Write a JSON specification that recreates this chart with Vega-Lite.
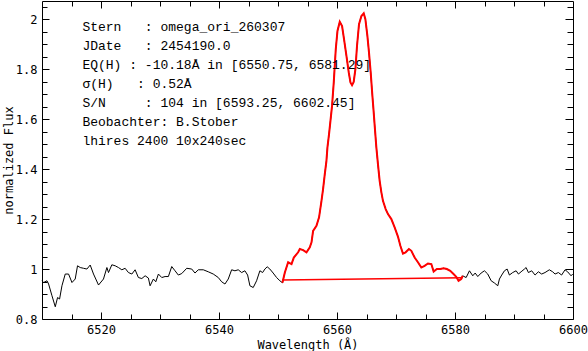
{
  "$schema": "https://vega.github.io/schema/vega-lite/v6.json",
  "width": 531,
  "height": 318,
  "autosize": {"type": "none"},
  "padding": {"left": 42, "top": 1, "right": 15, "bottom": 32},
  "background": "white",
  "config": {
    "view": {"stroke": "black", "strokeWidth": 1},
    "axis": {
      "domain": false,
      "grid": false,
      "tickColor": "black",
      "tickWidth": 1,
      "labelFont": "DejaVu Sans Mono",
      "labelFontSize": 12,
      "labelColor": "black",
      "titleFont": "DejaVu Sans Mono",
      "titleFontSize": 12,
      "titleFontWeight": "normal",
      "titleColor": "black"
    }
  },
  "datasets": {
    "spec": [
      {"w": 6510.0, "f": 0.953}, {"w": 6510.27, "f": 0.946}, {"w": 6510.85, "f": 0.953}, {"w": 6511.12, "f": 0.94},
      {"w": 6511.69, "f": 0.893}, {"w": 6512.25, "f": 0.849}, {"w": 6512.64, "f": 0.886}, {"w": 6512.98, "f": 0.88},
      {"w": 6513.38, "f": 0.933}, {"w": 6513.94, "f": 0.98}, {"w": 6514.5, "f": 0.98}, {"w": 6515.08, "f": 0.946},
      {"w": 6515.63, "f": 0.96}, {"w": 6516.02, "f": 1.013}, {"w": 6516.48, "f": 1.006}, {"w": 6517.04, "f": 1.003},
      {"w": 6517.61, "f": 1.0}, {"w": 6518.17, "f": 1.016}, {"w": 6518.73, "f": 0.98}, {"w": 6519.58, "f": 0.936},
      {"w": 6520.42, "f": 0.96}, {"w": 6521.0, "f": 1.006}, {"w": 6521.27, "f": 0.986}, {"w": 6521.84, "f": 1.017},
      {"w": 6522.4, "f": 1.013}, {"w": 6522.96, "f": 1.006}, {"w": 6523.53, "f": 0.997}, {"w": 6524.09, "f": 1.003},
      {"w": 6524.65, "f": 0.986}, {"w": 6525.23, "f": 0.98}, {"w": 6525.78, "f": 0.997}, {"w": 6526.34, "f": 0.966},
      {"w": 6526.92, "f": 0.962}, {"w": 6527.48, "f": 0.973}, {"w": 6528.03, "f": 0.964}, {"w": 6528.32, "f": 0.933},
      {"w": 6528.88, "f": 0.96}, {"w": 6529.29, "f": 0.949}, {"w": 6529.73, "f": 0.98}, {"w": 6530.3, "f": 0.966},
      {"w": 6530.86, "f": 0.97}, {"w": 6531.42, "f": 0.97}, {"w": 6531.99, "f": 1.01}, {"w": 6532.55, "f": 0.993},
      {"w": 6533.11, "f": 0.976}, {"w": 6533.69, "f": 0.982}, {"w": 6534.53, "f": 1.003}, {"w": 6535.38, "f": 1.0},
      {"w": 6535.93, "f": 0.984}, {"w": 6536.49, "f": 0.997}, {"w": 6537.34, "f": 0.997}, {"w": 6538.18, "f": 0.989},
      {"w": 6539.03, "f": 0.98}, {"w": 6539.88, "f": 0.966}, {"w": 6540.45, "f": 0.949}, {"w": 6541.01, "f": 0.94},
      {"w": 6541.57, "f": 0.96}, {"w": 6542.14, "f": 0.997}, {"w": 6542.7, "f": 0.993}, {"w": 6543.26, "f": 0.997},
      {"w": 6543.84, "f": 0.986}, {"w": 6544.39, "f": 0.993}, {"w": 6544.85, "f": 0.976}, {"w": 6545.24, "f": 0.933},
      {"w": 6545.8, "f": 0.926}, {"w": 6546.37, "f": 0.953}, {"w": 6546.93, "f": 0.993}, {"w": 6547.39, "f": 0.986},
      {"w": 6547.78, "f": 1.0}, {"w": 6548.17, "f": 1.009}, {"w": 6548.62, "f": 1.0}, {"w": 6549.18, "f": 0.984},
      {"w": 6549.76, "f": 0.966}, {"w": 6550.32, "f": 0.953}, {"w": 6550.75, "f": 0.945},
      {"w": 6551.16, "f": 0.986}, {"w": 6551.72, "f": 1.027}, {"w": 6552.29, "f": 1.02}, {"w": 6552.68, "f": 1.046},
      {"w": 6553.41, "f": 1.067}, {"w": 6553.7, "f": 1.08}, {"w": 6554.26, "f": 1.076}, {"w": 6554.83, "f": 1.067},
      {"w": 6555.39, "f": 1.087}, {"w": 6555.68, "f": 1.107}, {"w": 6555.95, "f": 1.153}, {"w": 6556.52, "f": 1.173},
      {"w": 6556.96, "f": 1.207}, {"w": 6557.37, "f": 1.273}, {"w": 6557.64, "f": 1.32}, {"w": 6557.93, "f": 1.38},
      {"w": 6558.21, "f": 1.433}, {"w": 6558.38, "f": 1.487}, {"w": 6558.65, "f": 1.54}, {"w": 6558.89, "f": 1.593},
      {"w": 6559.16, "f": 1.653}, {"w": 6559.45, "f": 1.747}, {"w": 6559.79, "f": 1.88}, {"w": 6560.08, "f": 1.953},
      {"w": 6560.47, "f": 1.99}, {"w": 6560.86, "f": 1.973}, {"w": 6561.19, "f": 1.92}, {"w": 6561.6, "f": 1.853},
      {"w": 6561.99, "f": 1.787}, {"w": 6562.28, "f": 1.747}, {"w": 6562.55, "f": 1.736}, {"w": 6562.83, "f": 1.749},
      {"w": 6563.12, "f": 1.8}, {"w": 6563.39, "f": 1.893}, {"w": 6563.73, "f": 1.98}, {"w": 6564.14, "f": 2.013},
      {"w": 6564.53, "f": 2.024}, {"w": 6564.81, "f": 2.0}, {"w": 6565.15, "f": 1.933}, {"w": 6565.42, "f": 1.867},
      {"w": 6565.71, "f": 1.787}, {"w": 6566.0, "f": 1.693}, {"w": 6566.22, "f": 1.627}, {"w": 6566.39, "f": 1.573},
      {"w": 6566.67, "f": 1.487}, {"w": 6566.94, "f": 1.42}, {"w": 6567.23, "f": 1.353}, {"w": 6567.52, "f": 1.307},
      {"w": 6567.79, "f": 1.273}, {"w": 6568.25, "f": 1.24}, {"w": 6568.64, "f": 1.22}, {"w": 6569.21, "f": 1.2},
      {"w": 6569.77, "f": 1.167}, {"w": 6570.33, "f": 1.13}, {"w": 6570.74, "f": 1.093}, {"w": 6571.18, "f": 1.062},
      {"w": 6571.63, "f": 1.067}, {"w": 6572.19, "f": 1.08}, {"w": 6572.6, "f": 1.073}, {"w": 6573.16, "f": 1.046},
      {"w": 6573.72, "f": 1.027}, {"w": 6574.29, "f": 1.006}, {"w": 6574.85, "f": 1.013}, {"w": 6575.41, "f": 1.022},
      {"w": 6575.99, "f": 1.02}, {"w": 6576.38, "f": 0.99}, {"w": 6576.93, "f": 1.0}, {"w": 6577.5, "f": 1.0},
      {"w": 6578.06, "f": 1.003}, {"w": 6578.62, "f": 1.0}, {"w": 6579.19, "f": 0.993}, {"w": 6579.75, "f": 0.98},
      {"w": 6580.21, "f": 0.969}, {"w": 6580.6, "f": 0.953}, {"w": 6581.05, "f": 0.96}, {"w": 6581.29, "f": 0.973},
      {"w": 6581.89, "f": 0.966}, {"w": 6582.45, "f": 0.993}, {"w": 6583.01, "f": 0.973}, {"w": 6583.42, "f": 0.984},
      {"w": 6583.86, "f": 0.97}, {"w": 6584.43, "f": 0.984}, {"w": 6584.99, "f": 0.993}, {"w": 6585.55, "f": 0.98},
      {"w": 6586.13, "f": 0.953}, {"w": 6586.69, "f": 0.944}, {"w": 6587.25, "f": 0.933}, {"w": 6587.53, "f": 0.96},
      {"w": 6587.92, "f": 0.976}, {"w": 6588.38, "f": 0.993}, {"w": 6588.84, "f": 1.0}, {"w": 6589.22, "f": 0.976},
      {"w": 6589.78, "f": 0.986}, {"w": 6590.36, "f": 0.993}, {"w": 6590.75, "f": 0.98}, {"w": 6591.2, "f": 0.989},
      {"w": 6591.77, "f": 1.0}, {"w": 6592.05, "f": 1.006}, {"w": 6592.44, "f": 0.986}, {"w": 6593.0, "f": 0.993},
      {"w": 6593.57, "f": 0.976}, {"w": 6594.13, "f": 0.989}, {"w": 6594.69, "f": 0.98}, {"w": 6595.26, "f": 0.986},
      {"w": 6595.99, "f": 0.997}, {"w": 6596.55, "f": 0.989}, {"w": 6596.96, "f": 0.98}, {"w": 6597.52, "f": 0.986},
      {"w": 6598.07, "f": 0.976}, {"w": 6598.65, "f": 0.997}, {"w": 6599.09, "f": 0.989}, {"w": 6599.67, "f": 0.973},
      {"w": 6599.95, "f": 0.98}
    ],
    "em": [
      {"w": 6550.75, "f": 0.945},
      {"w": 6551.16, "f": 0.986}, {"w": 6551.72, "f": 1.027}, {"w": 6552.29, "f": 1.02}, {"w": 6552.68, "f": 1.046},
      {"w": 6553.41, "f": 1.067}, {"w": 6553.7, "f": 1.08}, {"w": 6554.26, "f": 1.076}, {"w": 6554.83, "f": 1.067},
      {"w": 6555.39, "f": 1.087}, {"w": 6555.68, "f": 1.107}, {"w": 6555.95, "f": 1.153}, {"w": 6556.52, "f": 1.173},
      {"w": 6556.96, "f": 1.207}, {"w": 6557.37, "f": 1.273}, {"w": 6557.64, "f": 1.32}, {"w": 6557.93, "f": 1.38},
      {"w": 6558.21, "f": 1.433}, {"w": 6558.38, "f": 1.487}, {"w": 6558.65, "f": 1.54}, {"w": 6558.89, "f": 1.593},
      {"w": 6559.16, "f": 1.653}, {"w": 6559.45, "f": 1.747}, {"w": 6559.79, "f": 1.88}, {"w": 6560.08, "f": 1.953},
      {"w": 6560.47, "f": 1.99}, {"w": 6560.86, "f": 1.973}, {"w": 6561.19, "f": 1.92}, {"w": 6561.6, "f": 1.853},
      {"w": 6561.99, "f": 1.787}, {"w": 6562.28, "f": 1.747}, {"w": 6562.55, "f": 1.736}, {"w": 6562.83, "f": 1.749},
      {"w": 6563.12, "f": 1.8}, {"w": 6563.39, "f": 1.893}, {"w": 6563.73, "f": 1.98}, {"w": 6564.14, "f": 2.013},
      {"w": 6564.53, "f": 2.024}, {"w": 6564.81, "f": 2.0}, {"w": 6565.15, "f": 1.933}, {"w": 6565.42, "f": 1.867},
      {"w": 6565.71, "f": 1.787}, {"w": 6566.0, "f": 1.693}, {"w": 6566.22, "f": 1.627}, {"w": 6566.39, "f": 1.573},
      {"w": 6566.67, "f": 1.487}, {"w": 6566.94, "f": 1.42}, {"w": 6567.23, "f": 1.353}, {"w": 6567.52, "f": 1.307},
      {"w": 6567.79, "f": 1.273}, {"w": 6568.25, "f": 1.24}, {"w": 6568.64, "f": 1.22}, {"w": 6569.21, "f": 1.2},
      {"w": 6569.77, "f": 1.167}, {"w": 6570.33, "f": 1.13}, {"w": 6570.74, "f": 1.093}, {"w": 6571.18, "f": 1.062},
      {"w": 6571.63, "f": 1.067}, {"w": 6572.19, "f": 1.08}, {"w": 6572.6, "f": 1.073}, {"w": 6573.16, "f": 1.046},
      {"w": 6573.72, "f": 1.027}, {"w": 6574.29, "f": 1.006}, {"w": 6574.85, "f": 1.013}, {"w": 6575.41, "f": 1.022},
      {"w": 6575.99, "f": 1.02}, {"w": 6576.38, "f": 0.99}, {"w": 6576.93, "f": 1.0}, {"w": 6577.5, "f": 1.0},
      {"w": 6578.06, "f": 1.003}, {"w": 6578.62, "f": 1.0}, {"w": 6579.19, "f": 0.993}, {"w": 6579.75, "f": 0.98},
      {"w": 6580.21, "f": 0.969}, {"w": 6580.6, "f": 0.953}, {"w": 6581.05, "f": 0.96}, {"w": 6581.29, "f": 0.973}
    ],
    "base": [
      {"w": 6550.75, "f": 0.956},
      {"w": 6581.29, "f": 0.965}
    ]
  },
  "layer": [
    {
      "data": {"name": "spec"},
      "mark": {"type": "line", "color": "black", "strokeWidth": 1},
      "encoding": {
        "x": {
          "field": "w", "type": "quantitative",
          "scale": {"domain": [6510, 6600], "nice": false, "zero": false},
          "axis": {
            "orient": "bottom",
            "values": [6520, 6540, 6560, 6580, 6600],
            "format": "d",
            "tickSize": -7,
            "labelPadding": 12,
            "labelFlush": false,
            "title": "Wavelength (Å)",
            "titlePadding": 4
          }
        },
        "y": {
          "field": "f", "type": "quantitative",
          "scale": {"domain": [0.8, 2.073], "nice": false, "zero": false},
          "axis": {
            "orient": "left",
            "values": [0.8, 1.0, 1.2, 1.4, 1.6, 1.8, 2.0],
            "format": "~g",
            "tickSize": -7,
            "labelPadding": 12,
            "labelFlush": false,
            "title": "normalized Flux",
            "titlePadding": 0
          }
        }
      }
    },
    {
      "data": {"name": "em"},
      "mark": {"type": "line", "color": "#ff0000", "strokeWidth": 2},
      "encoding": {
        "x": {
          "field": "w", "type": "quantitative",
          "axis": {
            "orient": "bottom",
            "values": [6515, 6525, 6530, 6535, 6545, 6550, 6555, 6565, 6570, 6575, 6585, 6590, 6595],
            "tickSize": -5, "labels": false, "title": null
          }
        },
        "y": {
          "field": "f", "type": "quantitative",
          "axis": {
            "orient": "left",
            "values": [0.85, 0.9, 0.95, 1.05, 1.1, 1.15, 1.25, 1.3, 1.35, 1.45, 1.5, 1.55, 1.65, 1.7, 1.75, 1.85, 1.9, 1.95, 2.05],
            "tickSize": -5, "labels": false, "title": null
          }
        }
      }
    },
    {
      "data": {"name": "base"},
      "mark": {"type": "line", "color": "#ff0000", "strokeWidth": 1.5},
      "encoding": {
        "x": {
          "field": "w", "type": "quantitative",
          "axis": {
            "orient": "top",
            "values": [6515, 6525, 6530, 6535, 6545, 6550, 6555, 6565, 6570, 6575, 6585, 6590, 6595],
            "tickSize": -5, "labels": false, "title": null
          }
        },
        "y": {
          "field": "f", "type": "quantitative",
          "axis": {
            "orient": "right",
            "values": [0.85, 0.9, 0.95, 1.05, 1.1, 1.15, 1.25, 1.3, 1.35, 1.45, 1.5, 1.55, 1.65, 1.7, 1.75, 1.85, 1.9, 1.95, 2.05],
            "tickSize": -6, "labels": false, "title": null
          }
        }
      }
    },
    {
      "data": {"values": [{}]},
      "mark": {
        "type": "text", "align": "left", "baseline": "alphabetic",
        "font": "Liberation Mono", "fontSize": 13, "lineHeight": 19, "color": "black"
      },
      "encoding": {
        "x": {
          "datum": 6516.85, "type": "quantitative",
          "axis": {
            "orient": "top",
            "values": [6520, 6540, 6560, 6580],
            "tickSize": -7, "labels": false, "title": null
          }
        },
        "y": {
          "datum": 1.953, "type": "quantitative",
          "axis": {
            "orient": "right",
            "values": [1.0, 1.2, 1.4, 1.6, 1.8, 2.0],
            "tickSize": -8, "labels": false, "title": null
          }
        },
        "text": {"value": [
          "Stern\u00a0\u00a0\u00a0:\u00a0omega_ori_260307",
          "JDate\u00a0\u00a0\u00a0:\u00a02454190.0",
          "EQ(H)\u00a0:\u00a0-10.18Å\u00a0in\u00a0[6550.75,\u00a06581.29]",
          "σ(H)\u00a0\u00a0\u00a0:\u00a00.52Å",
          "S/N\u00a0\u00a0\u00a0\u00a0\u00a0:\u00a0104\u00a0in\u00a0[6593.25,\u00a06602.45]",
          "Beobachter:\u00a0B.Stober",
          "lhires\u00a02400\u00a010x240sec"
        ]}
      }
    }
  ]
}
